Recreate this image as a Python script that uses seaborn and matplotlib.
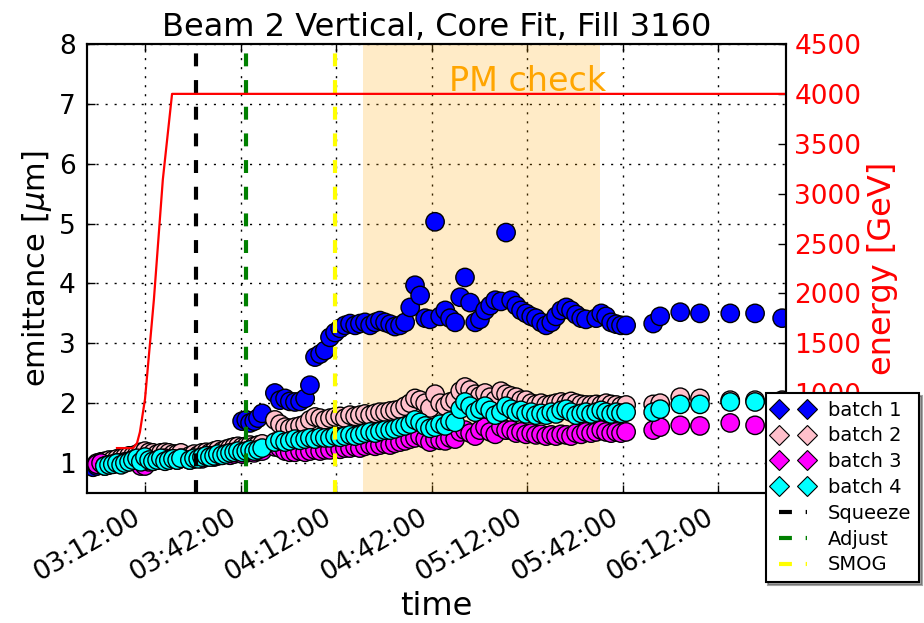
import numpy as np
import pandas as pd
import matplotlib
matplotlib.use("Agg")
import matplotlib.pyplot as plt
import matplotlib.dates as mdates
from matplotlib.lines import Line2D
import seaborn as sns

nan = float("nan")

fill_start = pd.Timestamp("2012-10-24 02:50:00")

# measurement times, minutes after 02:50
t_minutes = [
    5.7, 6.9, 8.2, 9.4, 10.7, 11.9, 13.2, 14.5, 15.7, 17.0, 18.2, 19.5, 20.7,
    22.0, 23.3, 24.5, 25.8, 27.0, 28.3, 29.5, 30.8, 32.1, 33.3,
    36.1, 37.4, 38.7, 39.9, 41.2, 42.4, 43.7, 44.9, 46.2, 47.5, 48.7, 50.0,
    51.2, 52.5, 53.8, 55.0, 56.3, 57.5, 58.8,
    62.8, 64.4, 66.0, 67.5, 69.1, 70.7, 72.3, 73.8, 75.4, 77.0, 78.5, 80.1,
    81.7, 83.3, 84.8, 86.4, 88.0, 89.5, 91.1, 92.7, 94.3, 95.8, 97.4, 99.0,
    100.5, 102.1, 103.7, 105.3, 106.8, 108.4, 110.0, 111.5, 113.1, 114.7,
    116.3, 117.8, 119.4, 121.0, 122.5, 124.1, 125.7, 127.2, 128.8, 130.4, 132.0,
    133.8, 135.4, 137.0, 138.6, 140.1, 141.7, 143.3, 144.8, 146.4, 148.0,
    149.6, 151.1, 152.7, 154.3, 155.8, 157.4, 159.0, 160.5, 162.1, 163.7,
    165.3, 166.8, 168.4, 170.0, 171.5, 173.1,
    181.6, 183.8, 190.1, 196.3, 205.8, 213.6, 222.1,
]

# vertical emittance per batch [um]
emit_b1 = [
    0.93, 0.95, 0.97, 0.98, 0.98, 1.00, 1.00, 1.02, 1.03, 1.03, 1.05, 1.07, 1.08,
    1.10, 1.10, 1.08, 1.07, 1.08, 1.10, 1.10, 1.08, 1.08, 1.10,
    1.08, 1.10, 1.10, 1.12, 1.13, 1.12, 1.15, 1.15, 1.17, 1.18, 1.20, 1.20,
    1.22, 1.70, 1.72, 1.67, 1.70, 1.75, 1.83,
    2.17, 2.05, 2.08, 2.03, 2.02, 2.03, 2.08, 2.30, 2.77, 2.82, 2.88, 3.10,
    3.18, 3.25, 3.30, 3.33, 3.30, 3.33, 3.35, 3.30, 3.35, 3.38, 3.35, 3.32,
    3.28, 3.30, 3.35, 3.60, 3.97, 3.80, 3.42, 3.40, 5.03, 3.45,
    3.55, 3.42, 3.35, 3.77, 4.10, 3.68, 3.35, 3.40, 3.55, 3.63, 3.72,
    3.70, 4.85, 3.72, 3.63, 3.55, 3.50, 3.45, 3.42, 3.35, 3.30,
    3.35, 3.45, 3.55, 3.60, 3.55, 3.48, 3.42, 3.40, nan, 3.42,
    3.50, 3.45, 3.35, 3.32, 3.30, 3.30,
    3.33, 3.45, 3.52, 3.50, 3.50, 3.50, 3.42,
]
emit_b2 = [
    nan, 1.00, 1.02, 1.03, 1.05, 1.05, 1.07, 1.08, 1.10, 1.12, 1.12, 1.15, 1.18,
    1.20, 1.18, 1.17, 1.15, 1.17, 1.18, 1.17, 1.15, 1.15, 1.17,
    1.12, 1.15, 1.13, 1.17, 1.18, 1.17, 1.20, 1.22, 1.20, 1.23, 1.25, 1.27,
    1.28, 1.27, 1.28, 1.30, 1.28, 1.30, 1.32,
    1.72, 1.65, 1.60, 1.58, 1.60, 1.62, 1.65, 1.72, 1.77, 1.75, 1.72, 1.75,
    1.77, 1.78, 1.75, 1.80, 1.78, 1.80, 1.82, 1.80, 1.83, 1.85, 1.85, 1.87,
    1.88, 1.90, 1.95, 2.00, 2.08, 2.05, 2.00, 1.92, 2.15, 2.00,
    1.95, 2.02, 2.05, 2.20, 2.27, 2.22, 2.15, 2.12, 2.17, 2.10, 2.05,
    2.20, 2.15, 2.12, 2.10, 2.05, 2.05, 2.00, 1.98, 2.00, 1.97,
    1.98, 2.00, 2.02, 2.00, 2.03, 2.00, 1.98, 1.97, 1.97, 1.98,
    1.97, 2.00, 1.98, 1.97, 1.95, 1.97,
    1.98, 2.00, 2.10, 2.08, 2.05, 2.05, 2.05,
]
emit_b3 = [
    nan, 0.98, 1.00, 0.95, 0.97, 0.98, 1.00, 1.00, 1.02, 1.03, 1.05, 1.05, 0.95,
    0.95, 1.02, 1.03, 1.05, 1.07, 1.08, 1.05, 1.07, 1.05, 1.08,
    1.05, 1.07, 1.08, 1.07, 1.10, 1.12, 1.10, 1.12, 1.13, 1.15, 1.13, 1.15,
    1.17, 1.15, 1.17, 1.18, 1.17, 1.20, 1.20,
    1.27, 1.25, 1.20, 1.18, 1.18, 1.20, 1.18, 1.20, 1.22, 1.20, 1.22, 1.22,
    1.25, 1.23, 1.25, 1.25, 1.27, 1.25, 1.28, 1.30, 1.28, 1.30, 1.32, 1.30,
    1.33, 1.35, 1.37, 1.40, 1.42, 1.45, 1.40, 1.35, 1.40, 1.38,
    1.37, 1.42, 1.40, 1.52, 1.55, 1.50, 1.45, 1.55, 1.60, 1.52, 1.48,
    1.60, 1.55, 1.55, 1.50, 1.52, 1.48, 1.50, 1.47, 1.48, 1.45,
    1.47, 1.45, 1.48, 1.47, 1.45, 1.50, 1.48, 1.52, 1.50, 1.52,
    1.55, 1.52, 1.50, 1.52, 1.50, 1.52,
    1.55, 1.60, 1.63, 1.62, 1.67, 1.63, 1.65,
]
emit_b4 = [
    nan, nan, nan, 0.95, 0.97, 0.98, 1.00, 0.97, 1.00, 1.02, 1.05, 1.08, 1.02,
    1.10, 1.05, 1.03, 1.05, 1.08, 1.03, 1.05, 1.07, 1.05, 1.08,
    1.05, 1.08, 1.07, 1.10, 1.12, 1.10, 1.12, 1.15, 1.13, 1.15, 1.17, 1.18,
    1.20, 1.18, 1.20, 1.22, 1.20, 1.22, 1.25,
    1.35, 1.38, 1.35, 1.37, 1.40, 1.38, 1.40, 1.42, 1.40, 1.43, 1.42, 1.42,
    1.45, 1.43, 1.45, 1.47, 1.45, 1.47, 1.50, 1.52, 1.50, 1.53, 1.55, 1.55,
    1.57, 1.60, 1.62, 1.65, 1.72, 1.68, 1.62, 1.58, 1.60, 1.65,
    1.62, 1.70, 1.68, 1.90, 2.02, 1.95, 1.85, 1.90, 1.95, 1.88, 1.80,
    1.85, 1.95, 1.90, 1.85, 1.88, 1.82, 1.85, 1.80, 1.83, 1.80,
    1.85, 1.82, 1.88, 1.90, 1.85, 1.80, 1.83, 1.85, 1.82, 1.85,
    1.88, 1.85, 1.82, 1.85, 1.83, 1.85,
    1.85, 1.90, 1.98, 1.98, 2.02, 2.02, 2.03,
]

batch_names = ["batch 1", "batch 2", "batch 3", "batch 4"]
batch_colors = ["blue", "pink", "magenta", "cyan"]

# beam energy programme
energy_minutes = [13.2, 18.2, 19.5, 20.4, 22.0, 23.6, 24.8, 27.6, 30.5, 223.3]
energy_gev = [450, 450, 500, 610, 940, 1510, 1940, 3140, 4000, 4000]

# machine-mode markers
event_names = ["Squeeze", "Adjust", "SMOG"]
event_minutes = [38.0, 53.7, 81.8]
event_colors = ["black", "green", "yellow"]

pm_check_minutes = [90.5, 164.9]
pm_label_minute = 142.0
pm_label_level = 7.38

x_range_minutes = [3.8, 223.3]


def to_time(minutes):
    return fill_start + pd.to_timedelta(np.asarray(minutes, dtype=float), unit="min")


times = to_time(t_minutes)
frames = []
for name, values in zip(batch_names, [emit_b1, emit_b2, emit_b3, emit_b4]):
    frames.append(pd.DataFrame({"time": times, "emittance": values, "batch": name}))
emit_df = pd.concat(frames, ignore_index=True).dropna()

energy_df = pd.DataFrame({"time": to_time(energy_minutes), "energy": energy_gev})

plt.rcParams["font.family"] = ["DejaVu Sans"]
plt.rcParams["mathtext.fontset"] = "dejavusans"

fig = plt.figure(figsize=(9.24, 6.23), dpi=100)
ax = fig.add_axes([0.0942, 0.2087, 0.7564, 0.7207])
ax.set_axisbelow(True)

pm_t = to_time(pm_check_minutes)
ax.axvspan(pm_t[0], pm_t[1], color="orange", alpha=0.22, lw=0)

sns.scatterplot(
    data=emit_df, x="time", y="emittance", hue="batch",
    palette=dict(zip(batch_names, batch_colors)), hue_order=batch_names,
    s=175, edgecolor="black", linewidth=1.0, legend=False, ax=ax,
)

dash = (0, (3.1, 3.3))
for t_ev, col in zip(to_time(event_minutes), event_colors):
    ax.axvline(t_ev, color=col, lw=3, linestyle=dash)

ax.text(to_time([pm_label_minute])[0], pm_label_level, "PM check", color="orange",
        fontsize=24, ha="center", va="center")

ax.grid(True, color="black", linestyle=(0, (1.5, 5)), lw=1.0)
ax.set_ylim(0.5, 8)
ax.set_yticks(range(1, 9))
ax.xaxis.set_major_locator(mdates.MinuteLocator(byminute=[12, 42]))
ax.xaxis.set_major_formatter(mdates.DateFormatter("%H:%M:%S"))
ax.tick_params(axis="both", direction="in", length=6, width=1, labelsize=19,
               top=True, right=False, pad=8)
plt.setp(ax.get_xticklabels(), rotation=30, ha="right")
ax.set_xlabel("time", fontsize=23)
ax.set_ylabel(r"emittance [$\mu$m]", fontsize=22)
ax.set_title("Beam 2 Vertical, Core Fit, Fill 3160", fontsize=23)

ax2 = ax.twinx()
sns.lineplot(data=energy_df, x="time", y="energy", color="red", lw=1.6, ax=ax2)
ax2.set_ylim(0, 4500)
ax2.set_yticks(range(0, 4501, 500))
ax2.tick_params(axis="y", direction="in", length=6, width=1, labelsize=19,
                labelcolor="red", pad=6)
ax2.set_ylabel("energy [GeV]", color="red", fontsize=23)
ax2.set_xlabel("")

xr = to_time(x_range_minutes)
ax.set_xlim(xr[0], xr[1])
ax2.set_xlim(xr[0], xr[1])

for a in (ax, ax2):
    for sp in a.spines.values():
        sp.set_color("black")
        sp.set_linewidth(1.5)

handles = [
    Line2D([], [], ls="none", marker="D", ms=10, mfc=c, mec="black", mew=0.8)
    for c in batch_colors
] + [Line2D([], [], color=c, lw=3, linestyle=dash) for c in event_colors]
leg = ax2.legend(
    handles, batch_names + event_names, loc="upper left",
    bbox_to_anchor=(0.971, 0.223), borderaxespad=0, numpoints=2, fontsize=14,
    frameon=True, fancybox=False, shadow=True, framealpha=1,
    edgecolor="black", labelspacing=0.35,
)
leg.get_frame().set_linewidth(1.5)

fig.savefig("out.png", dpi=100)
